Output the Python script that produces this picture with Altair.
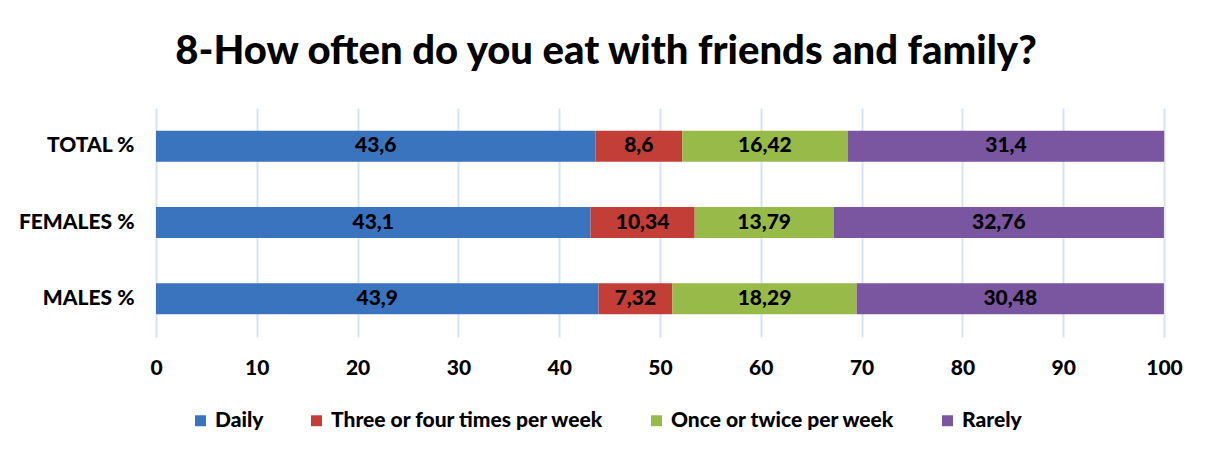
import altair as alt
import pandas as pd

groups = ["TOTAL %", "FEMALES %", "MALES %"]
categories = ["Daily", "Three or four times per week", "Once or twice per week", "Rarely"]
total = [43.6, 8.6, 16.42, 31.4]
females = [43.1, 10.34, 13.79, 32.76]
males = [43.9, 7.32, 18.29, 30.48]
colors = ["#3A73BE", "#C43E38", "#98BA48", "#7A55A0"]
x_ticks = [0, 10, 20, 30, 40, 50, 60, 70, 80, 90, 100]

rows = []
for g, vals in zip(groups, [total, females, males]):
    for i, (c, v) in enumerate(zip(categories, vals)):
        rows.append({"group": g, "category": c, "order": i, "value": v,
                     "label": str(v).replace(".", ",")})
df = pd.DataFrame(rows)

FONT = "Lato"
W = 900
FS = 21

y_enc = alt.Y("group:N", sort=groups, title=None,
              scale=alt.Scale(paddingInner=0.594, paddingOuter=0.297),
              axis=alt.Axis(domain=False, ticks=False, labelFontSize=FS,
                            labelFontWeight=W, labelColor="#000000",
                            labelPadding=22, labelFont=FONT))

base = alt.Chart(df).transform_stack(
    stack="value", as_=["x0", "x1"], groupby=["group"],
    sort=[alt.SortField("order", order="ascending")]
).transform_calculate(mid="(datum.x0 + datum.x1) / 2")

bars = base.mark_bar().encode(
    x=alt.X("x0:Q", title=None,
            scale=alt.Scale(domain=[0, 100], nice=False, zero=True),
            axis=alt.Axis(values=x_ticks, grid=True, gridColor="#D6E3F3",
                          gridWidth=2, domain=False, ticks=False, labelFlush=False,
                          labelFontSize=FS, labelFontWeight=W,
                          labelColor="#000000", labelPadding=20, labelFont=FONT)),
    x2="x1:Q",
    y=y_enc,
    color=alt.Color("category:N", sort=categories,
                    scale=alt.Scale(domain=categories, range=colors),
                    legend=alt.Legend(title=None, orient="none", direction="horizontal",
                                      legendX=34, legendY=302,
                                      symbolType="square", symbolSize=120,
                                      symbolStrokeWidth=0,
                                      labelFontSize=FS, labelFontWeight=W,
                                      labelColor="#000000", labelFont=FONT,
                                      columnPadding=42, labelLimit=400)),
)

texts = base.mark_text(fontSize=FS, fontWeight=W, color="#000000",
                       font=FONT, baseline="middle").encode(
    x="mid:Q",
    y=alt.Y("group:N", sort=groups),
    text="label:N",
)

chart = alt.layer(bars, texts).properties(
    width=1008, height=229,
    title=alt.TitleParams("8-How often do you eat with friends and family?",
                          fontSize=40, fontWeight=W, font=FONT,
                          color="#000000", anchor="middle", dx=-54, offset=36),
    autosize=alt.AutoSizeParams(type="none"),
    padding={"left": 156, "top": 108, "right": 48, "bottom": 124},
    background="#FFFFFF",
).configure_view(stroke=None)

chart.save("out.html", embed_options={"renderer": "svg", "actions": False})
